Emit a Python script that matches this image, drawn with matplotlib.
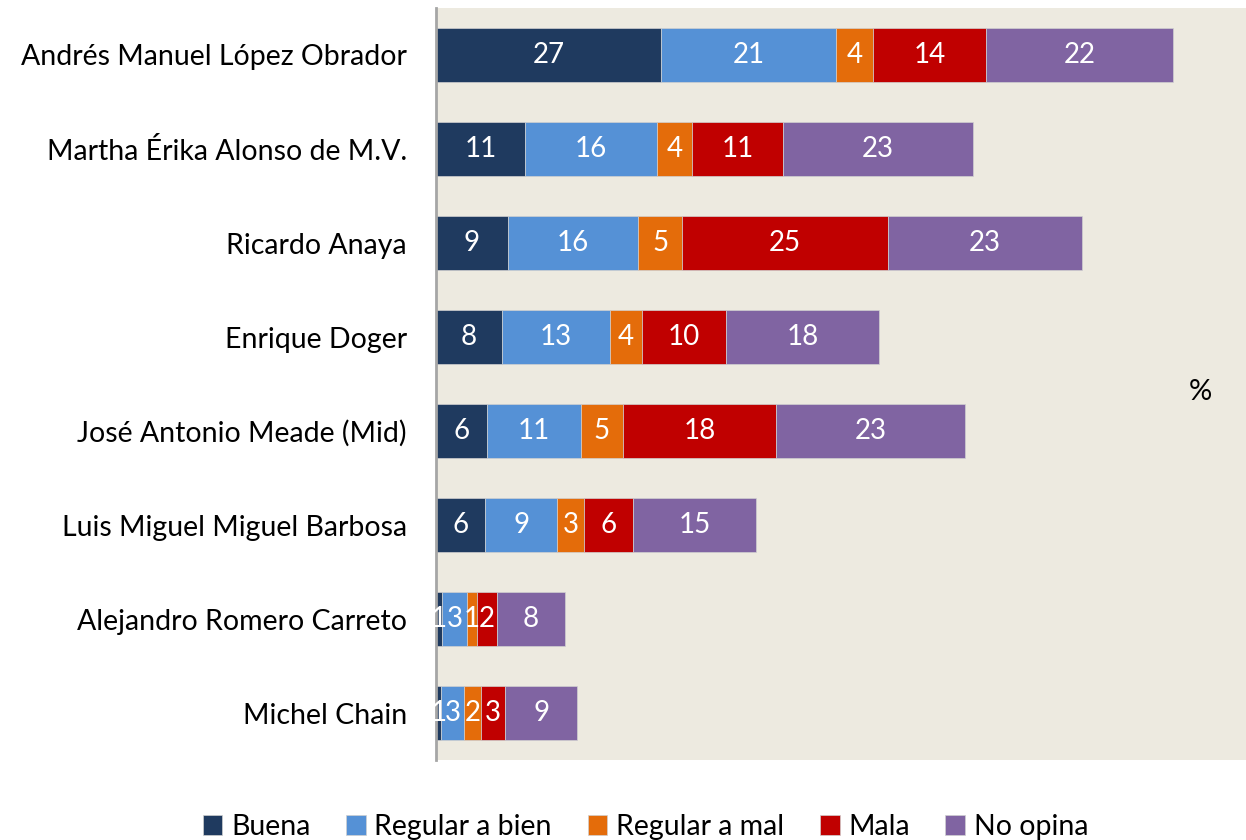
import numpy as np
import matplotlib.pyplot as plt

plt.rcParams['font.family'] = ['Lato', 'DejaVu Sans']

candidates = ['Andrés Manuel López Obrador', 'Martha Érika Alonso de M.V.', 'Ricardo Anaya',
              'Enrique Doger', 'José Antonio Meade (Mid)', 'Luis Miguel Miguel Barbosa',
              'Alejandro Romero Carreto', 'Michel Chain']
series = ['Buena', 'Regular a bien', 'Regular a mal', 'Mala', 'No opina']
colors = ['#1F3A5F', '#5591D6', '#E46C0A', '#C00000', '#8064A2']

buena = [26.9, 10.6, 8.6, 7.9, 6.1, 5.9, 0.7, 0.6]
regular_bien = [21.0, 15.9, 15.6, 12.9, 11.2, 8.6, 3.0, 2.8]
regular_mal = [4.4, 4.1, 5.3, 3.9, 5.1, 3.2, 1.2, 2.0]
mala = [13.6, 11.0, 24.6, 10.0, 18.3, 5.9, 2.4, 2.9]
no_opina = [22.3, 22.7, 23.2, 18.4, 22.6, 14.7, 8.1, 8.6]
values = [buena, regular_bien, regular_mal, mala, no_opina]

fig = plt.figure(figsize=(12.46, 8.40), dpi=100)
ax = fig.add_axes([0.35, 0.095, 0.65, 0.8955])
ax.set_facecolor('#EDEAE0')

y = np.arange(len(candidates))
left = np.zeros(len(candidates))
for name, vals, c in zip(series, values, colors):
    vals = np.array(vals)
    ax.barh(y, vals, left=left, height=0.57, color=c, label=name,
            edgecolor='#D0D0D0', linewidth=0.5)
    for yi, v, l in zip(y, vals, left):
        ax.text(l + v / 2, yi, f'{round(v + 1e-9):.0f}', ha='center', va='center',
                color='white', fontsize=20)
    left += vals

ax.set_ylim(len(candidates) - 0.5, -0.5)
ax.set_xlim(0, 97.0)
ax.set_yticks(y)
ax.set_yticklabels(candidates, fontsize=20.5)
ax.tick_params(axis='y', length=0, pad=21)
ax.set_xticks([])
for s in ['top', 'right', 'bottom']:
    ax.spines[s].set_visible(False)
ax.spines['left'].set_color('#A6A6A6')
ax.spines['left'].set_linewidth(2)

ax.text(0.944, 0.49, '%', transform=ax.transAxes, fontsize=21, ha='center', va='center')

fig.legend(loc='center', bbox_to_anchor=(0.518, 0.016), ncol=5, frameon=False, fontsize=20.5,
           handlelength=0.7, handleheight=0.7, handletextpad=0.3, columnspacing=1.25)

fig.savefig('out.png', dpi=100)
